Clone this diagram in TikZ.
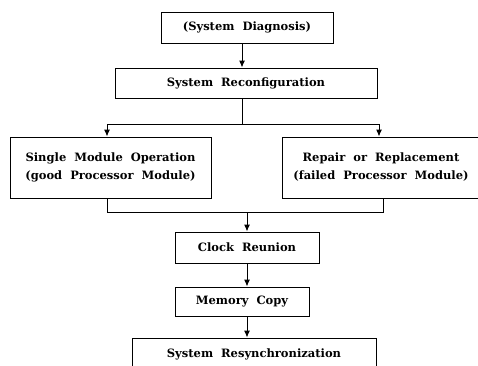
\documentclass[tikz,border=0pt]{standalone}
\usepackage{fontspec}
\setmainfont{DejaVu Serif}[WordSpace=2]
\usetikzlibrary{arrows.meta,positioning}

\begin{document}
\begin{tikzpicture}[x=1pt,y=-1pt,box/.style={draw,fill=white,align=center,inner sep=0pt,font=\bfseries\fontsize{11.5}{18}\selectfont},line width=1pt,->,>={Latex[length=7pt,width=6pt]}]

		\clip (0,0) rectangle (478,365);

		\node[box,minimum width=172pt,minimum height=31pt] (diag) at (247,27.5) {(System Diagnosis)};
		\node[box,minimum width=262pt,minimum height=30pt] (reconf) at (246,83) {System Reconfiguration};
		\node[box,minimum width=201pt,minimum height=61pt] (single) at (110.5,167.5) {Single Module Operation\\(good Processor Module)};
		\node[box,minimum width=198pt,minimum height=61pt] (repair) at (381,167.5) {Repair or Replacement\\(failed Processor Module)};
		\node[box,minimum width=144pt,minimum height=31pt] (clock) at (247,247.5) {Clock Reunion};
		\node[box,minimum width=134pt,minimum height=29pt] (memory) at (242,301.5) {Memory Copy};
		\node[box,minimum width=244pt,minimum height=32pt] (resync) at (254,354) {System Resynchronization};

		\coordinate (fork) at (242,124);
		\coordinate (forkl) at (107,124);
		\coordinate (forkr) at (379,124);
		\coordinate (joinl) at (107,212);
		\coordinate (joinr) at (383,212);
		\coordinate (join) at (247,212);

		\draw[->] (diag.south -| fork) -- (reconf.north -| fork);
		\draw[-] (reconf.south -| fork) -- (fork);
		\draw[-] (forkl) -- (forkr);
		\draw[->] (forkl) -- (forkl |- single.north);
		\draw[->] (forkr) -- (forkr |- repair.north);

		\draw[-] (single.south -| joinl) -- (joinl) -- (joinr) -- (repair.south -| joinr);
		\draw[->] (join) -- (clock.north);
		\draw[->] (clock) -- (clock |- memory.north);
		\draw[->] (clock |- memory.south) -- (clock |- resync.north);

\end{tikzpicture}
\end{document}
